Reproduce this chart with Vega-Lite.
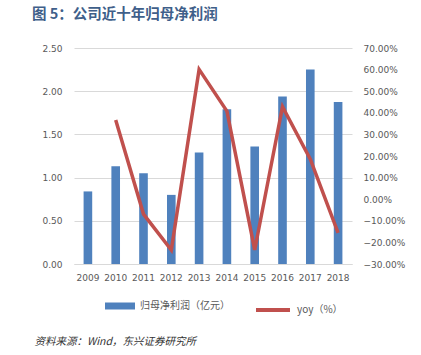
{
  "$schema": "https://vega.github.io/schema/vega-lite/v6.json",
  "width": 278,
  "height": 216,
  "autosize": {"type": "none"},
  "padding": {"left": 74, "top": 48, "right": 69, "bottom": 91},
  "background": "white",
  "title": {
    "text": "图 5：公司近十年归母净利润",
    "anchor": "start",
    "frame": "group",
    "dx": -42,
    "offset": 22,
    "font": "Noto Sans CJK SC",
    "fontSize": 14.5,
    "fontWeight": "bold",
    "color": "#3F5F8A"
  },
  "data": {
    "values": [
      {"year": "2009", "profit": 0.84, "yoy": null},
      {"year": "2010", "profit": 1.13, "yoy": 0.367},
      {"year": "2011", "profit": 1.05, "yoy": -0.069},
      {"year": "2012", "profit": 0.80, "yoy": -0.235},
      {"year": "2013", "profit": 1.29, "yoy": 0.601},
      {"year": "2014", "profit": 1.79, "yoy": 0.408},
      {"year": "2015", "profit": 1.36, "yoy": -0.235},
      {"year": "2016", "profit": 1.94, "yoy": 0.428},
      {"year": "2017", "profit": 2.25, "yoy": 0.185},
      {"year": "2018", "profit": 1.875, "yoy": -0.156}
    ]
  },
  "encoding": {
    "x": {
      "field": "year",
      "type": "ordinal",
      "scale": {"paddingInner": 0.69, "paddingOuter": 0.345},
      "axis": {
        "title": "资料来源：Wind，东兴证券研究所",
        "titleX": -40,
        "titleY": 77,
        "titleAlign": "left",
        "titleBaseline": "middle",
        "titleFont": "Noto Sans CJK SC",
        "titleFontSize": 10.5,
        "titleFontStyle": "italic",
        "titleFontWeight": "normal",
        "titleColor": "#333333",
        "labelAngle": 0,
        "labelPadding": 9,
        "ticks": false,
        "domainColor": "#D9D9D9",
        "labelFont": "DejaVu Sans",
        "labelFontSize": 9,
        "labelColor": "#595959"
      }
    }
  },
  "layer": [
    {
      "mark": {"type": "bar"},
      "encoding": {
        "y": {
          "field": "profit",
          "type": "quantitative",
          "scale": {"domain": [0, 2.5]},
          "axis": {
            "title": null,
            "values": [0, 0.5, 1, 1.5, 2, 2.5],
            "format": ".2f",
            "grid": true,
            "gridColor": "#D9D9D9",
            "domain": false,
            "ticks": false,
            "labelPadding": 12,
            "labelFont": "DejaVu Sans",
            "labelFontSize": 9,
            "labelColor": "#595959"
          }
        },
        "fill": {
          "datum": "归母净利润（亿元）",
          "type": "nominal",
          "scale": {"range": ["#4F81BD"]},
          "legend": {
            "orient": "none",
            "legendX": 31,
            "legendY": 243,
            "title": null,
            "symbolType": "M-1,-0.233H1V0.233H-1Z",
            "symbolSize": 900,
            "symbolStrokeWidth": 0,
            "labelFont": "Noto Sans CJK SC",
            "labelFontSize": 10,
            "labelColor": "#595959",
            "labelOffset": 5,
            "padding": 0
          }
        }
      }
    },
    {
      "mark": {"type": "line", "strokeWidth": 3.5, "strokeCap": "butt", "strokeJoin": "miter"},
      "encoding": {
        "y": {
          "field": "yoy",
          "type": "quantitative",
          "scale": {"domain": [-0.3, 0.7]},
          "axis": {
            "orient": "right",
            "title": null,
            "values": [-0.3, -0.2, -0.1, 0, 0.1, 0.2, 0.3, 0.4, 0.5, 0.6, 0.7],
            "format": ".2%",
            "grid": false,
            "domain": false,
            "ticks": false,
            "labelPadding": 11,
            "labelFont": "DejaVu Sans",
            "labelFontSize": 9,
            "labelColor": "#595959"
          }
        },
        "stroke": {
          "datum": "yoy（%）",
          "type": "nominal",
          "scale": {"range": ["#C0504D"]},
          "legend": {
            "orient": "none",
            "legendX": 180,
            "legendY": 243,
            "title": null,
            "symbolType": "stroke",
            "symbolSize": 1156,
            "symbolStrokeWidth": 4,
            "labelFont": "Noto Sans CJK SC",
            "labelFontSize": 10,
            "labelColor": "#595959",
            "labelOffset": 5,
            "padding": 0
          }
        }
      }
    }
  ],
  "resolve": {"scale": {"y": "independent"}},
  "config": {"view": {"stroke": null}}
}
